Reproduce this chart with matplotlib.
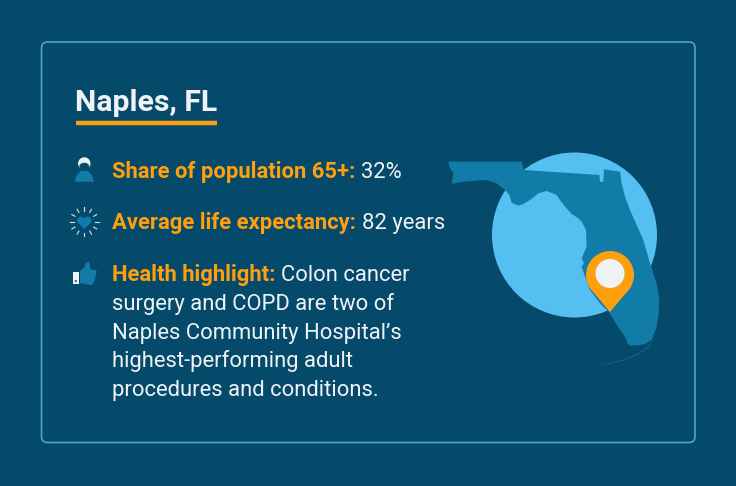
import numpy as np
import matplotlib
matplotlib.use('Agg')
import matplotlib.pyplot as plt
from matplotlib.patches import Circle, FancyBboxPatch, Polygon, Ellipse

BG = '#054a6b'
ORANGE = '#fd9f0f'
WHITE = '#f0f3f6'
MID = '#127ca8'
LIGHT = '#56bff2'
BORDER = '#4aa6cf'

title = 'Naples, FL'
labels = ['Share of population 65+:', 'Average life expectancy:', 'Health highlight:']
values = ['32%', '82 years', 'Colon cancer']
body_lines = ['surgery and COPD are two of',
              "Naples Community Hospital\u2019s",
              'highest-performing adult',
              'procedures and conditions.']

# outline of the state, in pixels of the zoomed crop
florida_x = [25, 245, 252, 478, 480, 490, 492, 540, 545, 555, 570, 590, 610, 630, 650, 658, 655, 650, 635,
             615, 600, 570, 563, 558, 530, 510, 480, 450, 435, 425, 432, 425, 440, 438, 425, 415, 395, 375, 360,
             350, 320, 295, 270, 250, 235, 215, 208, 195, 170, 140, 110, 70, 35, 40, 30]
florida_y = [65, 65, 90, 105, 125, 125, 88, 95, 130, 170, 210, 255, 300, 370, 430, 480, 530, 560, 600,
             612, 615, 617, 612, 595, 555, 520, 490, 450, 410, 380, 370, 355, 320, 270, 245, 235, 222, 200, 180,
             165, 153, 160, 180, 192, 197, 188, 165, 150, 130, 120, 122, 125, 132, 100, 85]

# keys south of the mainland, same crop
keys_x = [645, 625, 590, 550, 510, 480, 510, 552, 592, 628]
keys_y = [590, 618, 642, 658, 668, 672, 672, 662, 646, 622]

plt.rcParams['font.family'] = ['Roboto', 'DejaVu Sans']

fig = plt.figure(figsize=(7.36, 4.86), dpi=100, facecolor=BG)
ax = fig.add_axes([0, 0, 1, 1])
ax.set_xlim(0, 736)
ax.set_ylim(486, 0)
ax.axis('off')

# card border
ax.add_patch(FancyBboxPatch((41.5, 42), 653.5, 400.5, boxstyle='round,pad=0,rounding_size=6',
                            fc='none', ec=BORDER, lw=1.2))

# title
ax.text(75, 110.5, title, color=WHITE, fontsize=21.8, fontweight='bold', va='baseline', ha='left')
ax.plot([76, 217], [123, 123], color=ORANGE, lw=3.2, solid_capstyle='butt')

# text rows
FS = 15.85
rows_y = [178, 229, 281]
r = fig.canvas.get_renderer()
for lab, val, y in zip(labels, values, rows_y):
    t = ax.text(112, y, lab, color=ORANGE, fontsize=FS, fontweight='bold', va='baseline', ha='left')
    bb = t.get_window_extent(r)
    ax.text(bb.x1 + 6, y, val, color=WHITE, fontsize=FS, va='baseline', ha='left')
for i, line in enumerate(body_lines):
    ax.text(112, 310 + i * 28.7, line, color=WHITE, fontsize=FS, va='baseline', ha='left')

# person icon
ax.add_patch(Circle((84.3, 163.5), 6.2, fc=WHITE, ec='none'))
ax.add_patch(Ellipse((84.3, 166.5), 10, 7.5, fc=BG, ec='none'))
ax.add_patch(Polygon([(74.7, 181.7), (76.5, 175.5), (80.5, 171), (88, 171), (92, 175.5), (94, 181.7)],
                     closed=True, fc=MID, ec='none'))

# heart icon with rays
for a in np.arange(0, 360, 30):
    ca, sa = np.cos(np.radians(a)), np.sin(np.radians(a))
    ax.plot([84.3 + 10.8 * ca, 84.3 + 14.3 * ca], [221.7 + 10.8 * sa, 221.7 + 14.3 * sa],
            color=WHITE, lw=0.8, alpha=0.9)
ax.add_patch(Circle((80.9, 220.5), 3.8, fc=MID, ec='none'))
ax.add_patch(Circle((87.7, 220.5), 3.8, fc=MID, ec='none'))
ax.add_patch(Polygon([(77.3, 221.8), (91.3, 221.8), (84.3, 229)], closed=True, fc=MID, ec='none'))

# thumbs up icon
ax.add_patch(Polygon([(72.7, 271.7), (79, 271.7), (79, 283.5), (72.7, 283.5)], closed=True, fc=WHITE, ec='none'))
ax.add_patch(Circle((75.8, 281), 1, fc=BG, ec='none'))
ax.add_patch(Polygon([(80, 271), (84, 268), (86, 263), (88.5, 261.7), (90, 264), (90, 269), (96.7, 270.5),
                      (95.5, 277), (93, 284), (90, 285), (80, 283)], closed=True, fc=MID, ec='none'))

# map
ax.add_patch(Circle((574.5, 235), 82.5, fc=LIGHT, ec='none'))
ax.add_patch(Polygon(list(zip(440 + np.array(florida_x) / 3, 140 + np.array(florida_y) / 3)),
                     closed=True, fc=MID, ec='none'))
ax.add_patch(Polygon(list(zip(440 + np.array(keys_x) / 3, 140 + np.array(keys_y) / 3)),
                     closed=True, fc=MID, ec='none', alpha=0.45))

# pin
ax.add_patch(Circle((610, 275), 24, fc=ORANGE, ec='none'))
ax.add_patch(Polygon([(591.5, 290), (628.5, 290), (610, 312)], closed=True, fc=ORANGE, ec='none'))
ax.add_patch(Circle((610, 273.5), 14.5, fc=WHITE, ec='none'))

fig.savefig('out.png', dpi=100, facecolor=BG)
